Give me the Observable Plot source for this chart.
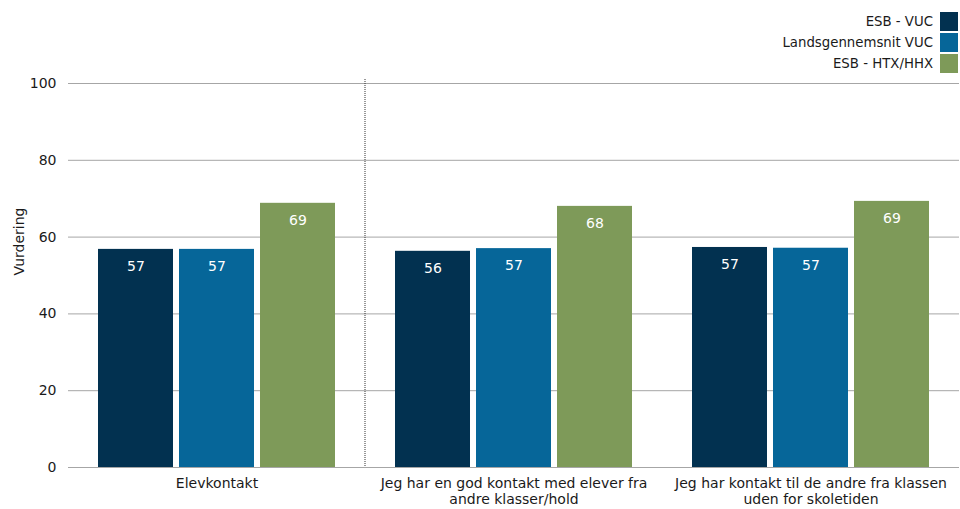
<!DOCTYPE html>
<html>
<head>
<meta charset="utf-8">
<script src="https://cdn.jsdelivr.net/npm/d3@7"></script>
<script src="https://cdn.jsdelivr.net/npm/@observablehq/plot@0.6"></script>
<style>
  html, body { margin: 0; padding: 0; background: #fff; }
  #wrap { position: relative; width: 960px; height: 509px; font-family: "DejaVu Sans", sans-serif; }
  #legend { position: absolute; right: 2px; top: 11px; font-size: 13.3px; color: #1a1a1a; }
  #legend .row { display: flex; justify-content: flex-end; align-items: center; height: 21px; }
  #legend .sw { width: 18px; height: 19px; margin-left: 7px; }
</style>
</head>
<body>
<div id="wrap">
  <div id="chart"></div>
  <div id="legend"></div>
</div>
<script>
const categories = [
  "Elevkontakt",
  "Jeg har en god kontakt med elever fra andre klasser/hold",
  "Jeg har kontakt til de andre fra klassen uden for skoletiden"
];
const categoryLabels = [
  "Elevkontakt",
  "Jeg har en god kontakt med elever fra\nandre klasser/hold",
  "Jeg har kontakt til de andre fra klassen\nuden for skoletiden"
];
const series = ["ESB - VUC", "Landsgennemsnit VUC", "ESB - HTX/HHX"];
const esbVuc = [56.8, 56.3, 57.3];
const landsVuc = [56.8, 57.0, 57.1];
const esbHtx = [68.8, 68.0, 69.3];
const yTicks = [0, 20, 40, 60, 80, 100];
const colors = ["#023150", "#066699", "#7e9a59"];

const seriesValues = [esbVuc, landsVuc, esbHtx];
const data = [];
categories.forEach((c, i) => {
  series.forEach((s, j) => data.push({category: c, series: s, value: seriesValues[j][i]}));
});

const chart = Plot.plot({
  width: 960,
  height: 509,
  marginTop: 83,
  marginLeft: 67,
  marginRight: 0,
  marginBottom: 42,
  style: {fontFamily: "'DejaVu Sans', sans-serif", fontSize: "14px", color: "#1a1a1a"},
  fx: {domain: categories, padding: 0, label: null},
  x: {domain: series, paddingInner: 0.08, paddingOuter: 0.368, axis: null},
  y: {domain: [0, 100], label: null},
  color: {domain: series, range: colors},
  marks: [
    Plot.ruleY(yTicks, {stroke: "#a6a6a6", strokeWidth: 1}),
    Plot.axisY({ticks: yTicks, tickSize: 0, tickPadding: 12, label: null, fontSize: 14}),
    Plot.text(["Vurdering"], {frameAnchor: "left", rotate: -90, dx: -49, fill: "#1a1a1a", fontSize: 14}),
    Plot.axisFx({anchor: "bottom", tickSize: 0, tickPadding: 9, lineHeight: 1.15, label: null, fontSize: 14,
      tickFormat: (d) => categoryLabels[categories.indexOf(d)]}),
    Plot.barY(data, {fx: "category", x: "series", y: "value", fill: "series"}),
    Plot.text(data, {fx: "category", x: "series", y: "value", text: (d) => Math.round(d.value).toString(),
      dy: 17, fill: "white", fontSize: 14}),
    Plot.ruleY([0], {stroke: "#a6a6a6", strokeWidth: 1})
  ]
});
document.getElementById("chart").appendChild(chart);

// dotted separator between first and second group
const fxScale = chart.scale("fx");
const yScale = chart.scale("y");
const sepX = fxScale.apply(categories[1]);
d3.select(chart).append("line")
  .attr("x1", sepX).attr("x2", sepX)
  .attr("y1", yScale.apply(100) - 4).attr("y2", yScale.apply(0))
  .attr("stroke", "#333").attr("stroke-width", 1).attr("stroke-dasharray", "1,1");

const legend = document.getElementById("legend");
series.forEach((s, i) => {
  const row = document.createElement("div");
  row.className = "row";
  const t = document.createElement("span");
  t.textContent = s;
  const sw = document.createElement("div");
  sw.className = "sw";
  sw.style.background = colors[i];
  row.appendChild(t);
  row.appendChild(sw);
  legend.appendChild(row);
});
</script>
</body>
</html>
